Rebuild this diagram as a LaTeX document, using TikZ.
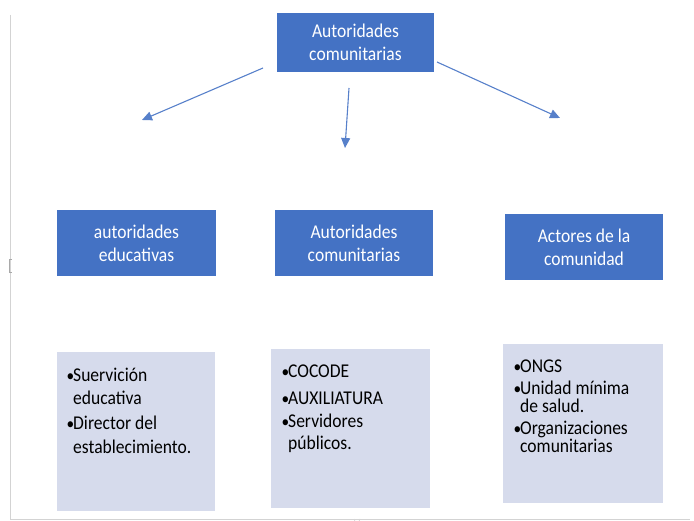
\documentclass[tikz,border=0pt]{standalone}
\usepackage{fontspec}
\setmainfont{Carlito}[FakeStretch=0.9]
\usetikzlibrary{arrows.meta}
\definecolor{hdr}{HTML}{4472C4}
\definecolor{lav}{HTML}{D6DBEC}
\definecolor{frm}{HTML}{D3D3D3}
\tikzset{
  hdrbox/.style={fill=hdr, draw=none, text=white, font=\fontsize{19.5}{23}\selectfont, align=center},
  listbox/.style={fill=lav, draw=none},
  listtext/.style={anchor=base west, inner sep=0pt, font=\fontsize{19.5}{22}\selectfont, align=left},
  arr/.style={draw=hdr!90, line width=1.1pt, -{Triangle[length=10pt,width=9pt]}}
}
\newcommand{\bul}{\makebox[6.5pt][l]{\fontsize{17}{17}\selectfont •}}
\begin{document}
\begin{tikzpicture}[x=1pt,y=-1pt]
\useasboundingbox (0,0) rectangle (694,521);
% frame lines
\draw[frm, line width=0.6pt] (10.5,15) -- (10.5,519) -- (690,519);
\draw[frm!80!black, line width=0.6pt] (12,259) -- (9,259) -- (9,272) -- (12,272);
\draw[frm, line width=0.6pt] (354,519) arc[start angle=180, end angle=0, radius=3];
% header boxes
\node[hdrbox, minimum width=157pt, minimum height=59pt] (top) at (355.5,42.5) {Autoridades\\comunitarias};
\node[hdrbox, minimum width=159pt, minimum height=66pt] (h1) at (136.5,243) {autoridades\\educativas};
\node[hdrbox, minimum width=158pt, minimum height=66pt] (h2) at (354,243) {Autoridades\\comunitarias};
\node[hdrbox, minimum width=158pt, minimum height=66pt] (h3) at (584,247) {Actores de la\\comunidad};
% list boxes
\node[listbox, minimum width=158pt, minimum height=159pt] (b1) at (136,431.5) {};
\node[listbox, minimum width=159pt, minimum height=159pt] (b2) at (350.5,428.5) {};
\node[listbox, minimum width=160pt, minimum height=159pt] (b3) at (583,423.5) {};
% list texts
\node[listtext] (t1) at (66.5,382) {\begin{tabular}[t]{@{}l@{}l@{}}\bul&Suervición\\[1pt]&educativa\\[3pt]\bul&Director del\\[2pt]&establecimiento.\end{tabular}};
\node[listtext] (t2) at (281.5,378) {\begin{tabular}[t]{@{}l@{}l@{}}\bul&COCODE\\[5pt]\bul&AUXILIATURA\\[1pt]\bul&Servidores\\&públicos.\end{tabular}};
\node[listtext] (t3) at (513.5,373) {\begin{tabular}[t]{@{}l@{}l@{}}\bul&ONGS\\\bul&Unidad mínima\\[-4pt]&de salud.\\\bul&Organizaciones\\[-4pt]&comunitarias\end{tabular}};
% arrows (free ends at named coordinates)
\coordinate (a1s) at (263,68);
\coordinate (a1e) at (142,120);
\coordinate (a2s) at (349,88);
\coordinate (a2e) at (345,148);
\coordinate (a3s) at (437,62);
\coordinate (a3e) at (560,118);
\draw[arr] (a1s) -- (a1e);
\draw[arr] (a2s) -- (a2e);
\draw[arr] (a3s) -- (a3e);
\end{tikzpicture}
\end{document}
